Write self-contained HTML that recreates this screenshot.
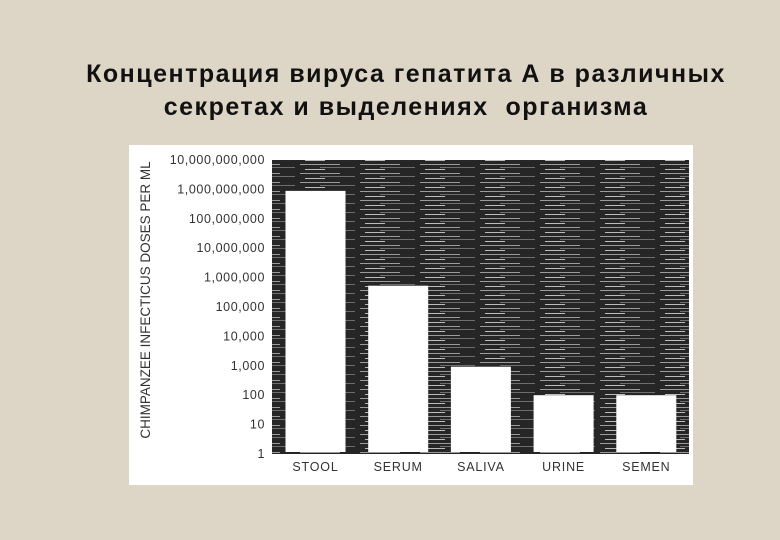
<!DOCTYPE html>
<html><head><meta charset="utf-8">
<style>
html,body{margin:0;padding:0}
body{width:780px;height:540px;background:#ddd5c6;position:relative;overflow:hidden;font-family:"Liberation Sans","Noto Sans CJK SC",sans-serif}
.title{position:absolute;left:16px;width:780px;text-align:center;font-weight:bold;font-size:25px;letter-spacing:1.5px;color:#111;line-height:33px}
</style></head><body>
<div class="title" style="top:58px">Концентрация вируса гепатита А в различных<br>секретах и выделениях&nbsp; организма</div>
<svg width="780" height="540" style="position:absolute;left:0;top:0">
<defs>
<pattern id="noise" width="60" height="9" patternUnits="userSpaceOnUse">
<rect width="60" height="9" fill="#262626"/>
<rect x="0" y="2" width="40" height="1" fill="#9a9a9a"/>
<rect x="20" y="5" width="35" height="1" fill="#6e6e6e"/>
<rect x="5" y="7" width="20" height="1" fill="#bcbcbc"/>
</pattern>
</defs>
<rect x="129" y="145" width="564" height="340" fill="#fff"/>
<rect x="272" y="160" width="417" height="294" fill="url(#noise)"/>
<g id="ticks"></g>
<g id="bars"></g>
<g id="xlabels"></g>
<text transform="translate(150,300) rotate(-90)" text-anchor="middle" font-size="13.5" fill="#333">CHIMPANZEE INFECTICUS DOSES PER ML</text>
</svg>
<script>
const categories=["STOOL","SERUM","SALIVA","URINE","SEMEN"];
const values=[8.9e8,5.3e5,930,100,100];
const tickLabels=["1","10","100","1,000","10,000","100,000","1,000,000","10,000,000","100,000,000","1,000,000,000","10,000,000,000"];
const NS="http://www.w3.org/2000/svg";
const y0=454,perDecade=29.4;
function yScale(v){return y0-Math.log10(v)*perDecade;}
function xScale(i){return 285.5+i*82.7;}
const tg=document.getElementById('ticks');
tickLabels.forEach((t,i)=>{
 const el=document.createElementNS(NS,'text');
 
 
 el.setAttribute('x',265);el.setAttribute('y',yScale(Math.pow(10,i))+4);
 el.setAttribute('text-anchor','end');el.setAttribute('font-size','12.5');el.setAttribute('letter-spacing','0.6');el.setAttribute('fill','#333');
 el.textContent=t;tg.appendChild(el);
});
const bg=document.getElementById('bars'),xg=document.getElementById('xlabels');
categories.forEach((c,i)=>{
 const r=document.createElementNS(NS,'rect');
 
 
 const top=yScale(values[i]);
 r.setAttribute('x',xScale(i));r.setAttribute('y',top);
 r.setAttribute('width',60);r.setAttribute('height',452-top);r.setAttribute('fill','#fff');
 bg.appendChild(r);
 const t=document.createElementNS(NS,'text');
 
 
 t.setAttribute('x',xScale(i)+30);t.setAttribute('y',471);t.setAttribute('text-anchor','middle');
 t.setAttribute('font-size','12.5');t.setAttribute('fill','#333');t.setAttribute('letter-spacing','0.8');
 t.textContent=c;xg.appendChild(t);
});
</script>
</body></html>
